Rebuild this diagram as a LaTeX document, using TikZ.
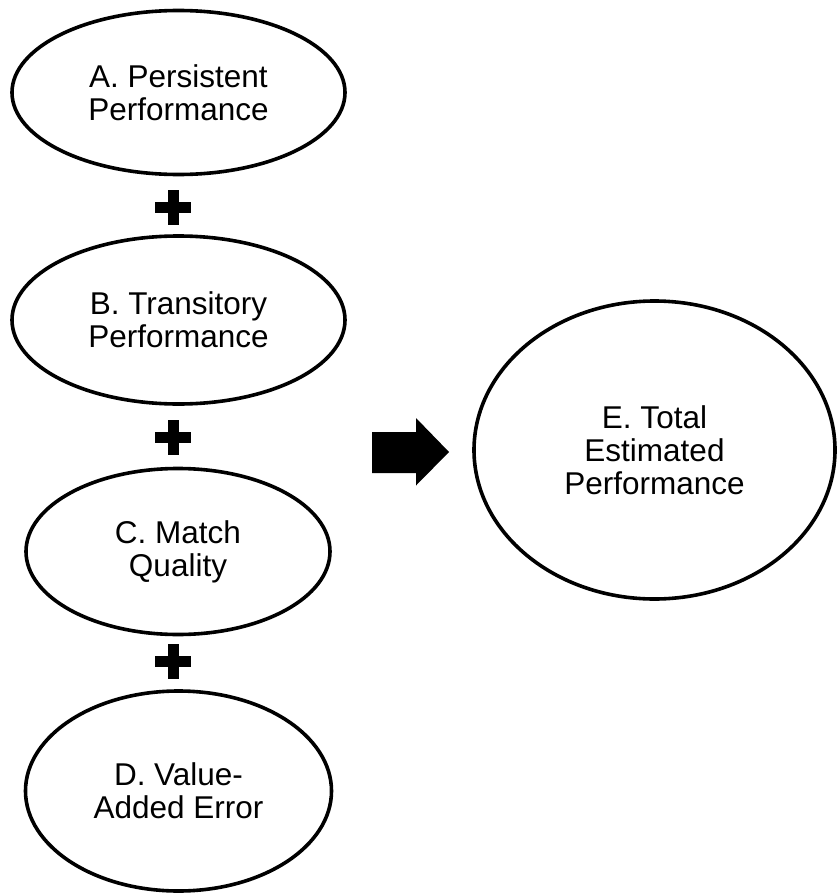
\documentclass[tikz,border=0pt]{standalone}
\usepackage{fontspec}
\setmainfont{Liberation Sans}
\usetikzlibrary{shapes.geometric,calc}
\tikzset{
  oval/.style={ellipse, draw=black, line width=3.6pt, fill=white, inner sep=0pt,
    align=center, font=\fontsize{31.5}{33}\selectfont},
  plusfill/.style={fill=black},
  bigarrow/.style={fill=black}
}
\begin{document}
\begin{tikzpicture}[x=1pt,y=-1pt]
\useasboundingbox[fill=white] (0,0) rectangle (836,894);
\node[oval, minimum width=333pt, minimum height=164pt] (A) at (178.5,92.5) {A. Persistent\\Performance};
\node[oval, minimum width=333pt, minimum height=168pt] (B) at (178.5,320) {B. Transitory\\Performance};
\node[oval, minimum width=304pt, minimum height=166pt] (C) at (178,551.5) {C. Match\\Quality};
\node[oval, minimum width=306pt, minimum height=200pt] (D) at (178.5,791) {D. Value-\\Added Error};
\node[oval, minimum width=361pt, minimum height=298pt] (E) at (654.5,450) {E. Total\\Estimated\\Performance};
% plus signs
\foreach \n/\yy in {p1/207.5, p2/437.5, p3/661.5}{
  \coordinate (\n) at (173,\yy);
  \fill[plusfill] ($(\n)+(-18,-5.5)$) rectangle ($(\n)+(18,5.5)$);
  \fill[plusfill] ($(\n)+(-5.5,-17.5)$) rectangle ($(\n)+(5.5,17.5)$);
}
% big arrow
\coordinate (arr) at (372,452.5);
\fill[bigarrow] (arr) ++(0,-20.5) -- ++(44,0) -- ++(0,-14) -- (449,452) -- (416,485.5) -- (416,473) -- (372,473) -- cycle;
\end{tikzpicture}
\end{document}
